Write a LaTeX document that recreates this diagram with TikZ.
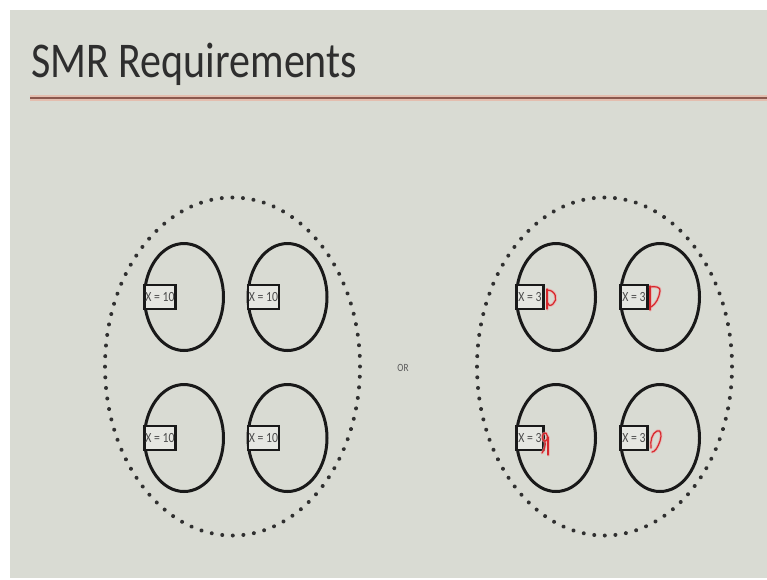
\documentclass[tikz,border=0pt]{standalone}
\usepackage{fontspec}
\setmainfont{Carlito}
\usetikzlibrary{shapes.geometric, decorations.markings}

\definecolor{slidebg}{RGB}{217,219,211}
\definecolor{boxbg}{RGB}{230,231,226}
\definecolor{rulered}{RGB}{138,88,78}
\definecolor{ruleglow}{RGB}{228,190,175}
\definecolor{ink}{RGB}{25,25,25}
\definecolor{pen}{RGB}{215,40,45}
\definecolor{penglow}{RGB}{240,160,160}

\tikzset{
  cell/.style={ellipse, draw=ink, line width=3pt, minimum width=79pt, minimum height=107pt, inner sep=0pt},
  groupring/.style={ellipse, minimum width=255pt, minimum height=338pt, inner sep=0pt},
  dotring/.style={decorate, decoration={markings,
    mark=between positions 0 and 0.995 step 0.0113636 with {\fill[ink!90] (0,0) circle (2pt);}}},
  valbox/.style={rectangle, draw=ink, fill=boxbg, line width=2.8pt, minimum height=24pt,
    inner sep=0pt, anchor=west, text=black!70, font=\fontsize{14}{16}\selectfont},
  wide/.style={valbox, minimum width=31pt},
  narrow/.style={valbox, minimum width=27pt},
  penstroke/.style={draw=pen, line width=1.2pt, line cap=round, line join=round},
  penhalo/.style={draw=penglow, opacity=0.6, line width=3pt, line cap=round, line join=round}
}

\newcommand{\sq}[1]{\scalebox{0.84}[1]{#1}}

\begin{document}
\begin{tikzpicture}[x=1pt, y=-1pt]
  \useasboundingbox (0,0) rectangle (767,579);
  % slide area
  \fill[white] (0,0) rectangle (767,579);
  \fill[slidebg] (10,10) rectangle (767,578);

  % title and rule
  \node[anchor=base west, inner sep=0pt, text=black!82, font=\fontsize{50}{60}\selectfont]
    (title) at (31,77) {\sq{SMR Requirements}};
  \coordinate (ruleL) at (30,98);
  \coordinate (ruleR) at (767,98);
  \draw[ruleglow, line width=6pt] (ruleL) -- (ruleR);
  \draw[rulered, line width=2.4pt] (ruleL) -- (ruleR);

  % left replica group
  \node[groupring] (gl) at (232.5,366.5) {};
  \path[dotring] (gl.center) ellipse [x radius=127.5pt, y radius=169pt];
  \node[cell] (l1) at (184,297) {};
  \node[cell] (l2) at (287.5,297) {};
  \node[cell] (l3) at (184,438) {};
  \node[cell] (l4) at (287.5,438) {};
  \node[wide] (lb1) at (l1.west) {\sq{X = 10}};
  \node[wide] (lb2) at (l2.west) {\sq{X = 10}};
  \node[wide] (lb3) at (l3.west) {\sq{X = 10}};
  \node[wide] (lb4) at (l4.west) {\sq{X = 10}};

  % separator
  \node[text=black!65, font=\fontsize{11}{13}\selectfont] (or) at (403,368) {\sq{OR}};

  % right replica group
  \node[groupring] (gr) at (604.5,366.5) {};
  \path[dotring] (gr.center) ellipse [x radius=127.5pt, y radius=169pt];
  \node[cell] (r1) at (556,297) {};
  \node[cell] (r2) at (660,297) {};
  \node[cell] (r3) at (556,438) {};
  \node[cell] (r4) at (660,438) {};
  \node[narrow] (rb1) at (r1.west) {\sq{X = 3}};
  \node[narrow] (rb2) at (r2.west) {\sq{X = 3}};
  \node[narrow] (rb3) at (r3.west) {\sq{X = 3}};
  \node[narrow] (rb4) at (r4.west) {\sq{X = 3}};

  % handwritten pen marks
  \foreach \sty in {penhalo, penstroke} {
    \draw[\sty] (547,289) -- (547,309);
    \draw[\sty] (547,290) .. controls (556,290) and (558,300) .. (553,304)
                .. controls (551,306) and (548,306) .. (548,303);
    \draw[\sty] (650,286) -- (650,310);
    \draw[\sty] (650,287) .. controls (655,286) and (661,287) .. (660,291)
                .. controls (659,298) and (656,304) .. (651,307);
    \draw[\sty] (548,437) -- (548,455);
    \draw[\sty] (546,433) .. controls (542,432) and (541,439) .. (544,441)
                .. controls (547,442) and (549,437) .. (546,433);
    \draw[\sty] (545,441) .. controls (546,446) and (544,450) .. (542,453);
    \draw[\sty] (651,448) .. controls (650,441) and (652,433) .. (657,431)
                .. controls (661,429) and (662,435) .. (660,441)
                .. controls (658,447) and (655,452) .. (652,452);
  }
\end{tikzpicture}
\end{document}
